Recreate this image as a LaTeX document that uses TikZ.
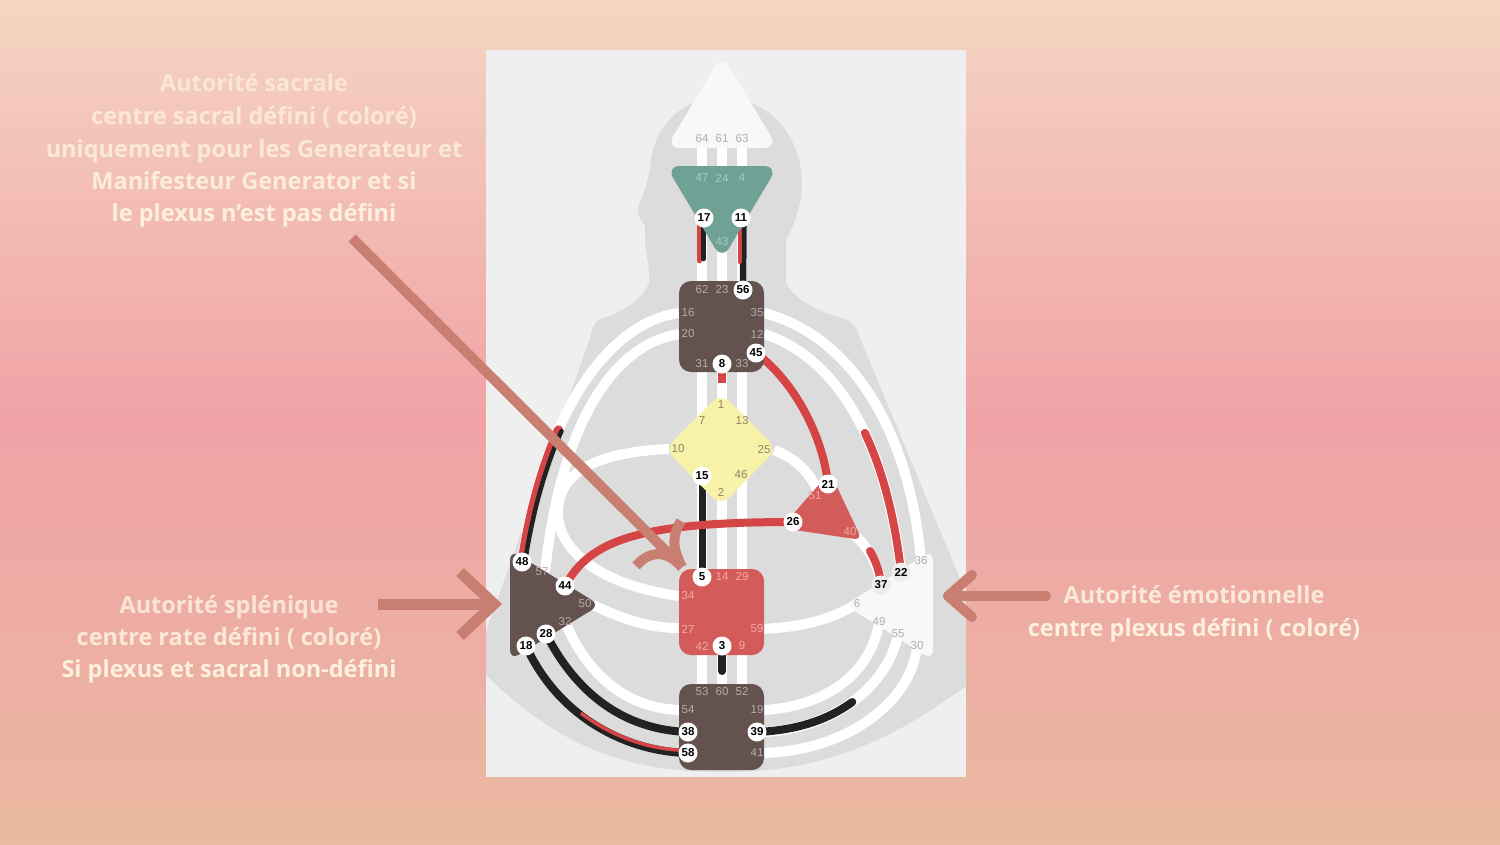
\documentclass[tikz,border=0pt]{standalone}
\usepackage{fontspec}
\setmainfont{Open Sans}
\newfontfamily\labfont{Liberation Sans}
\definecolor{bgtop}{HTML}{F5D5C2}
\definecolor{bgmid}{HTML}{F0A2A6}
\definecolor{bgbot}{HTML}{EAB9A1}
\definecolor{panelc}{HTML}{EFEFEF}
\definecolor{bodyc}{HTML}{DCDCDC}
\definecolor{brownc}{HTML}{63524E}
\definecolor{redc}{HTML}{D35B5A}
\definecolor{chanred}{HTML}{D64545}
\definecolor{chanblack}{HTML}{222222}
\definecolor{tealc}{HTML}{6FA295}
\definecolor{yellowc}{HTML}{F8F2A9}
\definecolor{whitec}{HTML}{F8F8F8}
\definecolor{arrowc}{HTML}{C97E72}
\definecolor{textc}{HTML}{FDF0DE}
\definecolor{lbrown}{HTML}{B8ABA7}
\definecolor{lteal}{HTML}{A8CCC1}
\definecolor{lgray}{HTML}{AEAEAE}
\definecolor{lyellow}{HTML}{8E8668}
\definecolor{lred}{HTML}{F3ABA7}
\tikzset{
  track/.style={white, line width=10},
  chr/.style={chanred, line width=8, line cap=round},
  chb/.style={chanblack, line width=8, line cap=round},
  lab/.style={inner sep=0pt, text=#1, font=\labfont\fontsize{11.5}{11.5}\selectfont},
  gate/.style={circle, fill=white, inner sep=0pt, minimum size=19, text=black, font=\labfont\bfseries\fontsize{11.5}{11.5}\selectfont},
  gategray/.style={gate, fill=black!7},
  ann/.style={arrowc, line width=10},
  captxt/.style={inner sep=0pt, anchor=base, text=textc, font=\bfseries\fontsize{23.5}{23.5}\selectfont},
}
\begin{document}
\begin{tikzpicture}[x=1pt,y=-1pt]
% background
\shade[top color=bgtop, bottom color=bgbot, middle color=bgmid] (0,0) rectangle (1500,844);
\useasboundingbox (0,0) rectangle (1500,844);

% gate coordinates
\coordinate (c17) at (704,218); \coordinate (c11) at (741,218);
\coordinate (c56) at (743,290); \coordinate (c8) at (722,364); \coordinate (c45) at (756,353);
\coordinate (c15) at (702,476);
\coordinate (c21) at (828,484); \coordinate (c26) at (793,522);
\coordinate (c5) at (702,577); \coordinate (c3) at (722,646);
\coordinate (c38) at (688,732); \coordinate (c39) at (757,732); \coordinate (c58) at (688,753);
\coordinate (c48) at (522,562); \coordinate (c44) at (565,586); \coordinate (c28) at (546,634); \coordinate (c18) at (526,646);
\coordinate (c22) at (901,572); \coordinate (c37) at (881,585);

\begin{scope}
\clip (486,50) rectangle (966,777);
\fill[panelc] (486,50) rectangle (966,777);
% body silhouette
\fill[bodyc] (649,283) .. controls (640,305) and (612,316) .. (600,319)
  .. controls (594,322) and (592,330) .. (590,338) -- (475,663)
  .. controls (560,755) and (640,772) .. (722,772)
  .. controls (804,772) and (884,755) .. (995,663) -- (860,338)
  .. controls (857,328) and (852,321) .. (845,319)
  .. controls (825,314) and (795,302) .. (786,283) -- (786,240)
  .. controls (800,215) and (806,185) .. (799,160)
  .. controls (786,112) and (752,98) .. (720,98)
  .. controls (682,98) and (656,125) .. (651,160)
  .. controls (649,178) and (645,192) .. (638,207)
  .. controls (636,213) and (640,219) .. (645,226) -- (645,242)
  .. controls (646,256) and (650,264) .. (649,283) -- cycle;

% white channel tracks
\draw[track] (702,140) -- (702,700);
\draw[track] (722,140) -- (722,700);
\draw[track] (742,140) -- (742,700);
\draw[track] (679,313) .. controls (610,322) and (545,410) .. (522,562);
\draw[track] (679,334) .. controls (610,345) and (560,430) .. (545,572);
\draw[track] (669,449) .. controls (600,452) and (560,470) .. (558,510)
  .. controls (556,550) and (600,585) .. (679,596);
\draw[track] (593,605) .. controls (625,620) and (650,628) .. (679,628);
\draw[track] (565,622) .. controls (590,680) and (630,708) .. (679,710);
\draw[track] (764,313) .. controls (850,335) and (910,430) .. (921,561);
\draw[track] (764,334) .. controls (830,355) and (885,430) .. (901,572);
\draw[track] (774,450) .. controls (795,458) and (810,472) .. (818,492);
\draw[track] (850,532) .. controls (865,542) and (878,562) .. (881,585);
\draw[track] (757,629) .. controls (800,628) and (830,620) .. (857,604);
\draw[track] (764,710) .. controls (830,706) and (872,670) .. (879,622);
\draw[track] (764,732) .. controls (840,728) and (890,680) .. (898,634);
\draw[track] (764,753) .. controls (850,750) and (912,700) .. (917,646);

% active channels
\draw[chanred, line width=4.5, line cap=round] (699.5,226) -- (699.5,261);
\draw[chanblack, line width=4.5, line cap=round] (703.5,226) -- (703.5,259);
\draw[chanblack, line width=6.5] (743.5,226) -- (c56);
\draw[chanred, line width=4, line cap=round] (739.5,226) -- (739.5,262);
\draw[chanred, line width=8] (c8) -- (722,383);
\draw[chanblack, line width=7] (c15) -- (c5);
\draw[chb] (c3) -- (722,671);
\draw[chr] (c45) .. controls (790,378) and (822,430) .. (c21);
\draw[chr] (c44) .. controls (590,540) and (640,522) .. (c26);
\draw[chr] (864.9,432.9) .. controls (882,469.1) and (894.6,515.2) .. (c22);
\draw[chr] (870,551) .. controls (876,561) and (880,573) .. (c37);
\draw[chanred, line width=9, line cap=round] (558.5,429.7) .. controls (542.5,466.0) and (529.8,510.3) .. (c48);
\draw[chanblack, line width=4.5, line cap=round] (561.5,431) .. controls (545.5,467) and (532.8,511) .. (525,562);
\draw[chb] (c28) .. controls (580,700) and (630,730) .. (c38);
\draw[chb] (c18) .. controls (560,720) and (630,752) .. (c58);
\draw[chanred, line width=3.5] (581,713) .. controls (614,738.5) and (653,750) .. (688,750.5);
\draw[chb] (c39) .. controls (799.7,730.1) and (829.7,718.5) .. (852.3,702);

% centers
\fill[whitec, rounded corners=14] (722,148) -- (778,148) -- (722,55) -- (666,148) -- cycle;
\fill[tealc, rounded corners=14] (722,166) -- (778,166) -- (722,260) -- (666,166) -- cycle;
\fill[brownc, rounded corners=12] (679,281) rectangle (764,372);
\fill[yellowc, rounded corners=12] (693,421) -- (721,393) -- (777,449) -- (721,506) -- (665,449) -- cycle;
\fill[redc, rounded corners=8] (805.5,500) -- (830,472) -- (862,540) -- (781,528) -- cycle;
\fill[redc, rounded corners=12] (679,569) rectangle (764,655);
\fill[brownc, rounded corners=12] (679,684) rectangle (764,770);
\fill[brownc, rounded corners=10] (510,605) -- (510,550) -- (600,605) -- (510,660) -- cycle;
\fill[whitec, rounded corners=10] (933,605) -- (933,550) -- (845,605) -- (933,660) -- cycle;
\end{scope}

% gate labels
\node[lab=lgray] (l64) at (702,139) {64};
\node[lab=lgray] (l61) at (722,139) {61};
\node[lab=lgray] (l63) at (742,139) {63};
\node[lab=lteal] (l47) at (702,178) {47};
\node[lab=lteal] (l24) at (722,178) {24};
\node[lab=lteal] (l4) at (742,178) {4};
\node[lab=lteal] (l43) at (722,242) {43};
\node[lab=lbrown] (l62) at (702,290) {62};
\node[lab=lbrown] (l23) at (722,290) {23};
\node[lab=lbrown] (l16) at (688,313) {16};
\node[lab=lbrown] (l35) at (757,313) {35};
\node[lab=lbrown] (l20) at (688,334) {20};
\node[lab=lbrown] (l12) at (757,334) {12};
\node[lab=lbrown] (l31) at (702,364) {31};
\node[lab=lbrown] (l33) at (742,364) {33};
\node[lab=lyellow] (l1) at (721,405) {1};
\node[lab=lyellow] (l7) at (702,421) {7};
\node[lab=lyellow] (l13) at (742,421) {13};
\node[lab=lyellow] (l10) at (678,449) {10};
\node[lab=lyellow] (l25) at (764,450) {25};
\node[lab=lyellow] (l46) at (741,475) {46};
\node[lab=lyellow] (l2) at (721,492) {2};
\node[lab=lred] (l51) at (815,496) {51};
\node[lab=lred] (l40) at (850,532) {40};
\node[lab=lred] (l14) at (722,577) {14};
\node[lab=lred] (l29) at (742,577) {29};
\node[lab=lred] (l34) at (688,596) {34};
\node[lab=lred] (l27) at (688,629) {27};
\node[lab=lred] (l59) at (757,629) {59};
\node[lab=lred] (l42) at (702,646) {42};
\node[lab=lred] (l9) at (742,646) {9};
\node[lab=lbrown] (l53) at (702,692) {53};
\node[lab=lbrown] (l60) at (722,692) {60};
\node[lab=lbrown] (l52) at (742,692) {52};
\node[lab=lbrown] (l54) at (688,710) {54};
\node[lab=lbrown] (l19) at (757,710) {19};
\node[lab=lbrown] (l41) at (757,753) {41};
\node[lab=lbrown] (l57) at (542,572) {57};
\node[lab=lbrown] (l50) at (585,604) {50};
\node[lab=lbrown] (l32) at (565,622) {32};
\node[lab=lgray] (l36) at (921,561) {36};
\node[lab=lgray] (l6) at (857,604) {6};
\node[lab=lgray] (l49) at (879,622) {49};
\node[lab=lgray] (l55) at (898,634) {55};
\node[lab=lgray] (l30) at (917,646) {30};

% defined gates
\node[gate] (g17) at (c17) {17};
\node[gate] (g11) at (c11) {11};
\node[gate] (g56) at (c56) {56};
\node[gate] (g8) at (c8) {8};
\node[gate] (g45) at (c45) {45};
\node[gate] (g15) at (c15) {15};
\node[gate] (g21) at (c21) {21};
\node[gate] (g26) at (c26) {26};
\node[gate] (g5) at (c5) {5};
\node[gate] (g3) at (c3) {3};
\node[gate] (g38) at (c38) {38};
\node[gate] (g39) at (c39) {39};
\node[gate] (g58) at (c58) {58};
\node[gate] (g48) at (c48) {48};
\node[gate] (g44) at (c44) {44};
\node[gate] (g28) at (c28) {28};
\node[gate] (g18) at (c18) {18};
\node[gategray] (g22) at (c22) {22};
\node[gategray] (g37) at (c37) {37};

% annotation texts
\node[captxt, text opacity=0.75] (t1a) at (254,91) {Autorité sacrale};
\node[captxt, text opacity=0.8] (t1b) at (254,124) {centre sacral défini ( coloré)};
\node[captxt, text opacity=0.85] (t1c) at (254,157) {uniquement pour les Generateur et};
\node[captxt, text opacity=0.95] (t1d) at (254,189) {Manifesteur Generator et si};
\node[captxt] (t1e) at (254,221) {le plexus n’est pas défini};
\node[captxt, text opacity=0.85] (t2a) at (229,613) {Autorité splénique};
\node[captxt, text opacity=0.9] (t2b) at (229,645) {centre rate défini ( coloré)};
\node[captxt] (t2c) at (229,677) {Si plexus et sacral non-défini};
\node[captxt, text opacity=0.9] (t3a) at (1194,603) {Autorité émotionnelle};
\node[captxt] (t3b) at (1194,636) {centre plexus défini ( coloré)};

% annotation arrows
\coordinate (a1s) at (352,238); \coordinate (a1t) at (682,567);
\coordinate (a2s) at (378,604); \coordinate (a2t) at (494,604);
\coordinate (a3s) at (1046,596); \coordinate (a3t) at (948,596);
\draw[ann] (a1s) -- (a1t);
\draw[ann] (a1t) .. controls (672,548) and (672,535) .. (681,521);
\draw[ann] (a1t) .. controls (665,548) and (648,552) .. (636,566);
\draw[ann, line width=11] (a2s) -- (a2t);
\draw[ann, line width=11, line join=miter] (460,572) -- (a2t) -- (460,636);
\draw[ann, line cap=round] (a3s) -- (a3t);
\draw[ann, line cap=round, line join=round] (972,575) -- (a3t) -- (972,617);
\end{tikzpicture}
\end{document}
